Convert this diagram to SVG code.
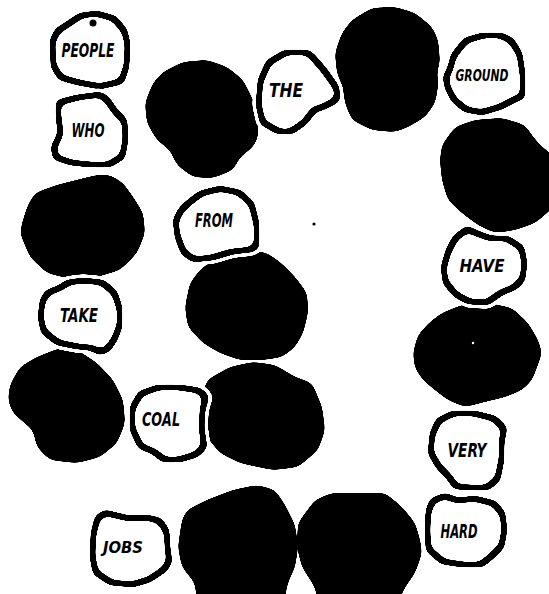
<svg xmlns="http://www.w3.org/2000/svg" xmlns:xlink="http://www.w3.org/1999/xlink" width="549" height="594" viewBox="0 0 549 594">
<style>
.blk{fill:#000;filter:url(#gooB)}
.halo{fill:#fff;stroke:#fff;stroke-width:12;stroke-linejoin:round;filter:url(#goo)}
.ring{fill:#000;stroke:#000;stroke-width:5;stroke-linejoin:round;filter:url(#goo)}
.inner{fill:#fff;filter:url(#gooIn)}
.t{font-family:"DejaVu Sans Condensed","DejaVu Sans",sans-serif;font-weight:bold;font-style:italic;font-size:19px;fill:#000;text-anchor:middle}
</style>
<defs>
<filter id="gooB" x="0" y="0" width="549" height="594" filterUnits="userSpaceOnUse">
<feGaussianBlur stdDeviation="4"/>
<feColorMatrix type="matrix" values="1 0 0 0 0  0 1 0 0 0  0 0 1 0 0  0 0 0 30 -14"/>
</filter>
<filter id="goo" x="0" y="0" width="549" height="594" filterUnits="userSpaceOnUse">
<feGaussianBlur stdDeviation="3"/>
<feColorMatrix type="matrix" values="1 0 0 0 0  0 1 0 0 0  0 0 1 0 0  0 0 0 30 -15"/>
</filter>
<filter id="gooIn" x="0" y="0" width="549" height="594" filterUnits="userSpaceOnUse">
<feMorphology operator="erode" radius="2.5"/>
<feGaussianBlur stdDeviation="3"/>
<feColorMatrix type="matrix" values="1 0 0 0 0  0 1 0 0 0  0 0 1 0 0  0 0 0 30 -15"/>
</filter>
<polygon id="p-people" points="65,25 80,15 97,13 115,18 125,30 128,43 127,67 122,82 100,87 78,83 60,78 53,67 52,40 57,30"/>
<polygon id="p-who" points="58,102 77,97 100,94 107,98 115,110 125,120 126,140 123,157 110,165 90,165 70,163 55,158 53,147 60,133 58,117"/>
<polygon id="p-the" points="268,62 285,52 308,52 312,55 325,70 337,87 338,100 325,107 315,110 305,123 292,132 278,132 262,123 258,105 260,80"/>
<polygon id="p-ground" points="465,40 482,35 502,35 512,40 520,53 523,73 523,97 515,100 502,107 482,113 465,110 453,100 447,88 445,77 450,67 453,55"/>
<polygon id="p-from" points="187,203 200,193 220,188 240,192 252,203 257,223 257,247 252,250 233,252 213,258 193,260 183,253 177,237 175,220 180,210"/>
<polygon id="p-have" points="455,237 467,228 478,233 492,238 508,238 522,247 525,263 523,280 515,288 502,293 488,303 468,302 455,295 445,283 443,267 448,250"/>
<polygon id="p-take" points="47,292 60,287 67,282 83,280 103,282 115,292 120,307 120,327 115,340 108,350 100,353 90,348 77,347 57,343 43,332 40,317 42,300"/>
<polygon id="p-coal" points="140,393 157,387 180,387 200,390 207,397 203,410 202,427 205,447 197,455 180,460 163,460 153,452 140,447 132,430 132,407"/>
<polygon id="p-very" points="438,420 452,413 475,413 495,418 505,428 502,443 502,460 498,480 488,488 472,488 455,487 448,477 438,467 430,453 432,433"/>
<polygon id="p-hard" points="432,500 445,495 458,500 475,498 495,503 503,513 505,530 502,547 492,557 482,565 462,565 442,562 428,550 427,530 428,510"/>
<polygon id="p-jobs" points="97,517 105,512 117,515 130,518 147,517 160,520 167,530 168,547 170,562 165,570 150,580 133,585 110,583 95,573 92,557 93,533"/>
</defs>
<rect width="549" height="594" fill="#fff"/>
<g id="black-blobs">
<polygon id="bA" class="blk" points="163,72 183,62 207,60 227,67 243,80 253,100 258,120 258,137 253,147 240,157 233,170 213,178 193,177 177,165 170,150 157,140 147,123 145,103 153,83"/>
<polygon id="bB" class="blk" points="352,20 372,8 395,7 415,13 432,27 438,40 440,63 437,70 438,87 435,103 425,117 408,127 395,132 372,130 352,120 345,103 343,87 337,73 335,53 342,33"/>
<polygon id="bC" class="blk" points="455,127 475,120 502,118 525,125 533,137 542,147 555,157 555,205 547,213 535,223 515,230 495,233 478,225 462,213 448,200 442,180 440,160 442,145"/>
<polygon id="bD" class="blk" points="35,193 57,185 97,175 110,175 123,183 133,197 143,213 145,233 137,253 120,270 93,278 67,278 47,273 30,257 20,233 23,220 28,205"/>
<polygon id="bE" class="blk" points="217,257 240,252 265,252 280,262 295,277 307,293 308,313 303,333 295,347 282,357 262,360 240,360 220,353 203,343 188,327 185,307 190,283 200,270"/>
<polygon id="bF" class="blk" points="462,305 488,303 512,308 528,323 538,340 542,353 537,367 532,380 522,390 505,397 488,401 465,407 448,400 435,390 423,380 415,368 413,353 418,335 430,322 442,313"/>
<polygon id="bG" class="blk" points="20,367 37,357 60,348 77,350 97,363 113,380 123,400 125,423 117,443 100,457 77,463 50,460 37,447 33,430 13,413 8,400 10,385"/>
<polygon id="bH" class="blk" points="207,380 230,367 253,362 275,365 295,377 312,383 322,407 325,430 318,450 298,467 273,470 240,463 220,453 207,437 200,410 203,393"/>
<polygon id="bI" class="blk" points="187,510 207,500 233,490 257,485 275,490 285,505 295,525 298,547 295,567 288,582 282,610 198,610 195,583 182,567 178,547 182,520"/>
<polygon id="bJ" class="blk" points="315,500 332,493 362,493 385,493 402,507 415,523 420,540 422,553 415,573 405,587 394,610 320,610 315,587 302,567 297,547 298,523"/>
<circle cx="473" cy="343" r="1.2" fill="#fff"/>
<path d="M206,404 Q201,410 205,417" fill="none" stroke="#fff" stroke-width="2"/>
<circle cx="314" cy="224" r="1.6" fill="#000"/>
</g>
<g id="n-people">
<use xlink:href="#p-people" class="halo"/><use xlink:href="#p-people" class="ring"/><use xlink:href="#p-people" class="inner"/>
<circle cx="93" cy="23" r="3.5" fill="#000"/>
<text class="t" x="88" y="57" textLength="53" lengthAdjust="spacingAndGlyphs">PEOPLE</text>
</g>
<g id="n-who">
<use xlink:href="#p-who" class="halo"/><use xlink:href="#p-who" class="ring"/><use xlink:href="#p-who" class="inner"/>
<text class="t" x="88" y="137" textLength="33" lengthAdjust="spacingAndGlyphs">WHO</text>
</g>
<g id="n-the">
<use xlink:href="#p-the" class="halo"/><use xlink:href="#p-the" class="ring"/><use xlink:href="#p-the" class="inner"/>
<text class="t" x="286" y="97" textLength="34" lengthAdjust="spacingAndGlyphs">THE</text>
</g>
<g id="n-ground">
<use xlink:href="#p-ground" class="halo"/><use xlink:href="#p-ground" class="ring"/><use xlink:href="#p-ground" class="inner"/>
<text class="t" x="482" y="81" textLength="53" lengthAdjust="spacingAndGlyphs" style="font-size:16px">GROUND</text>
</g>
<g id="n-from">
<use xlink:href="#p-from" class="halo"/><use xlink:href="#p-from" class="ring"/><use xlink:href="#p-from" class="inner"/>
<text class="t" x="214" y="227" textLength="38" lengthAdjust="spacingAndGlyphs">FROM</text>
</g>
<g id="n-have">
<use xlink:href="#p-have" class="halo"/><use xlink:href="#p-have" class="ring"/><use xlink:href="#p-have" class="inner"/>
<text class="t" x="482" y="272" textLength="45" lengthAdjust="spacingAndGlyphs" style="font-size:17px">HAVE</text>
</g>
<g id="n-take">
<use xlink:href="#p-take" class="halo"/><use xlink:href="#p-take" class="ring"/><use xlink:href="#p-take" class="inner"/>
<text class="t" x="79" y="322" textLength="38" lengthAdjust="spacingAndGlyphs">TAKE</text>
</g>
<g id="n-coal">
<use xlink:href="#p-coal" class="halo"/><use xlink:href="#p-coal" class="ring"/><use xlink:href="#p-coal" class="inner"/>
<text class="t" x="161" y="426" textLength="38" lengthAdjust="spacingAndGlyphs">COAL</text>
</g>
<g id="n-very">
<use xlink:href="#p-very" class="halo"/><use xlink:href="#p-very" class="ring"/><use xlink:href="#p-very" class="inner"/>
<text class="t" x="467" y="457" textLength="39" lengthAdjust="spacingAndGlyphs">VERY</text>
</g>
<g id="n-hard">
<use xlink:href="#p-hard" class="halo"/><use xlink:href="#p-hard" class="ring"/><use xlink:href="#p-hard" class="inner"/>
<text class="t" x="459" y="538" textLength="37" lengthAdjust="spacingAndGlyphs">HARD</text>
</g>
<g id="n-jobs">
<use xlink:href="#p-jobs" class="halo"/><use xlink:href="#p-jobs" class="ring"/><use xlink:href="#p-jobs" class="inner"/>
<text class="t" x="123" y="553" textLength="40" lengthAdjust="spacingAndGlyphs" style="font-size:16px">JOBS</text>
</g>
</svg>
